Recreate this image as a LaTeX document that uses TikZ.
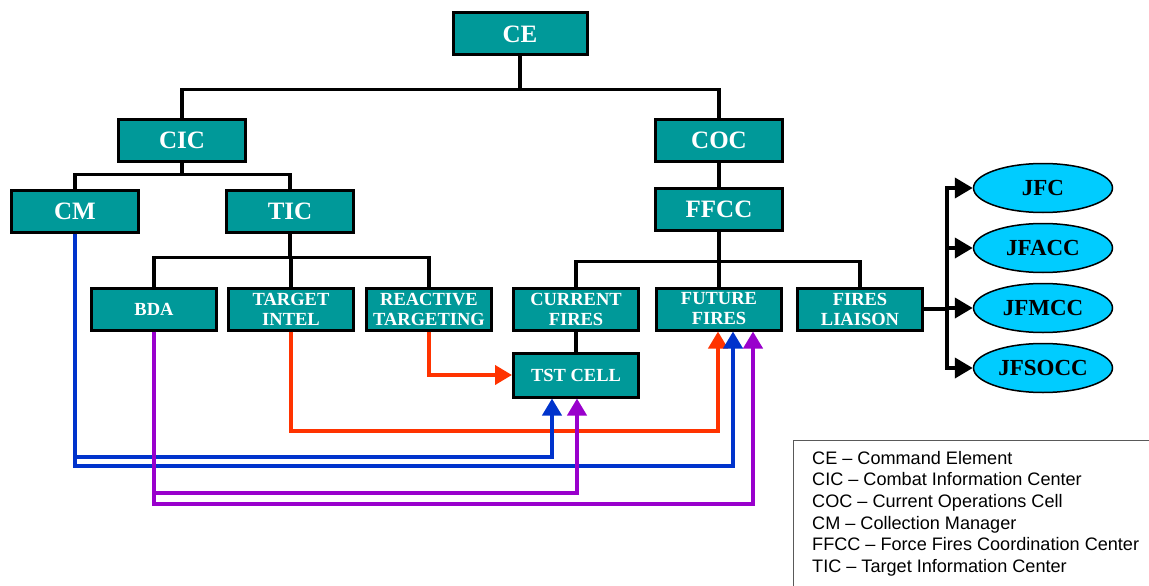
\documentclass[tikz,border=0pt]{standalone}
\usepackage{fontspec}
\setmainfont{Liberation Serif}
\newfontfamily\legendfont{Liberation Sans}
\usetikzlibrary{arrows.meta,shapes.geometric}

\definecolor{orgteal}{RGB}{0,153,153}
\definecolor{orgcyan}{RGB}{0,204,255}
\definecolor{flowred}{RGB}{255,51,0}
\definecolor{flowblue}{RGB}{0,51,204}
\definecolor{flowpurple}{RGB}{153,0,204}

\tikzset{
  unitbox/.style={draw=black, line width=3pt, fill=orgteal, text=white,
    font=\bfseries\fontsize{25}{27}\selectfont, minimum width=127pt, minimum height=42pt},
  cellbox/.style={unitbox, font=\bfseries\fontsize{18.5}{20}\selectfont, align=center,
    minimum width=125pt, inner xsep=2pt},
  jointcmd/.style={ellipse, draw=black, line width=1.5pt, fill=orgcyan, text=black,
    font=\bfseries\fontsize{23}{25}\selectfont, minimum width=139pt, minimum height=49pt},
  tree/.style={line width=3.2pt},
  flow/.style={line width=4pt, -{Triangle[length=17pt,width=19pt]}},
}

\begin{document}
\begin{tikzpicture}[x=1pt,y=-1pt]
		\useasboundingbox (0,0) rectangle (1149,586);

		% Kommandoebene
		\node[unitbox, minimum width=134pt] (ce)  at (520, 34) {CE};
		\node[unitbox] (cic)  at (182,140) {CIC};
		\node[unitbox] (coc)  at (719,140) {COC};
		\node[unitbox] (cm)   at ( 75,211) {CM};
		\node[unitbox] (tic)  at (290,211) {TIC};
		\node[unitbox] (ffcc) at (719,209) {FFCC};

		% Zellen unter TIC und FFCC
		\node[cellbox] (bda)      at (154,309) {BDA};
		\node[cellbox] (tgtintel) at (291,309) {TARGET\\INTEL};
		\node[cellbox] (reactive) at (429,309) {REACTIVE\\TARGETING};
		\node[cellbox] (curfires) at (576,309) {CURRENT\\FIRES};
		\node[cellbox] (futfires) at (719,309) {FUTURE\\FIRES};
		\node[cellbox] (liaison)  at (860,309) {FIRES\\LIAISON};
		\node[cellbox, minimum height=44pt] (tst) at (576,375) {TST CELL};

		% Joint-Komponenten
		\node[jointcmd] (jfc)    at (1043,188) {JFC};
		\node[jointcmd] (jfacc)  at (1043,248) {JFACC};
		\node[jointcmd] (jfmcc)  at (1043,308) {JFMCC};
		\node[jointcmd] (jfsocc) at (1043,368) {JFSOCC};

		% Baumstruktur
		\draw[tree] (ce.south) -- ++(0,33) -| (cic.north);
		\draw[tree] (ce.south) -- ++(0,33) -| (coc.north);
		\draw[tree] (cic.south) -- ++(0,12) -| (cm.north);
		\draw[tree] (cic.south) -- ++(0,12) -| (tic.north);
		\draw[tree] (tic.south) -- ++(0,24) -| (bda.north);
		\draw[tree] (tic.south) -- ++(0,24) -| (tgtintel.north);
		\draw[tree] (tic.south) -- ++(0,24) -| (reactive.north);
		\draw[tree] (coc) -- (ffcc);
		\draw[tree] (ffcc.south) -- ++(0,30) -| (curfires.north);
		\draw[tree] (ffcc.south) -- (futfires.north);
		\draw[tree] (ffcc.south) -- ++(0,30) -| (liaison.north);
		\draw[tree] (curfires) -- (tst);

		% Verteiler zu den Joint-Komponenten
		\draw[line width=4pt] (liaison.east) -- ++(23,0) coordinate (bus);
		\foreach \jc in {jfc,jfacc,jfmcc,jfsocc}
			\draw[line width=4pt, -{Triangle[length=18pt,width=20pt]}] (bus) |- (\jc.west);

		% Informationsfluesse
		\draw[flow, flowred] (reactive.south) |- (tst.west);
		\draw[flow, flowred] (tgtintel.south) -- ++(0,99) -| ([xshift=-1pt]futfires.south);
		\draw[flow, flowblue] (cm.south) -- ++(0,223) -| ([xshift=-24pt]tst.south);
		\draw[flow, flowblue] (cm.south) -- ++(0,232) -| ([xshift=14pt]futfires.south);
		\draw[flow, flowpurple] (bda.south) -- ++(0,161) -| ([xshift=1pt]tst.south);
		\draw[flow, flowpurple] (bda.south) -- ++(0,172) -| ([xshift=34pt]futfires.south);

		% Legende
		\draw[gray!70!black, line width=1pt] (1160,440) -- (793,440) -- (793,600);
		\node[anchor=north west, inner sep=0pt, align=left,
			font=\legendfont\fontsize{18.1}{21.6}\selectfont] (legend) at (812,451) {%
			CE – Command Element\\
			CIC – Combat Information Center\\
			COC – Current Operations Cell\\
			CM – Collection Manager\\
			FFCC – Force Fires Coordination Center\\
			TIC – Target Information Center};
	\end{tikzpicture}
\end{document}
